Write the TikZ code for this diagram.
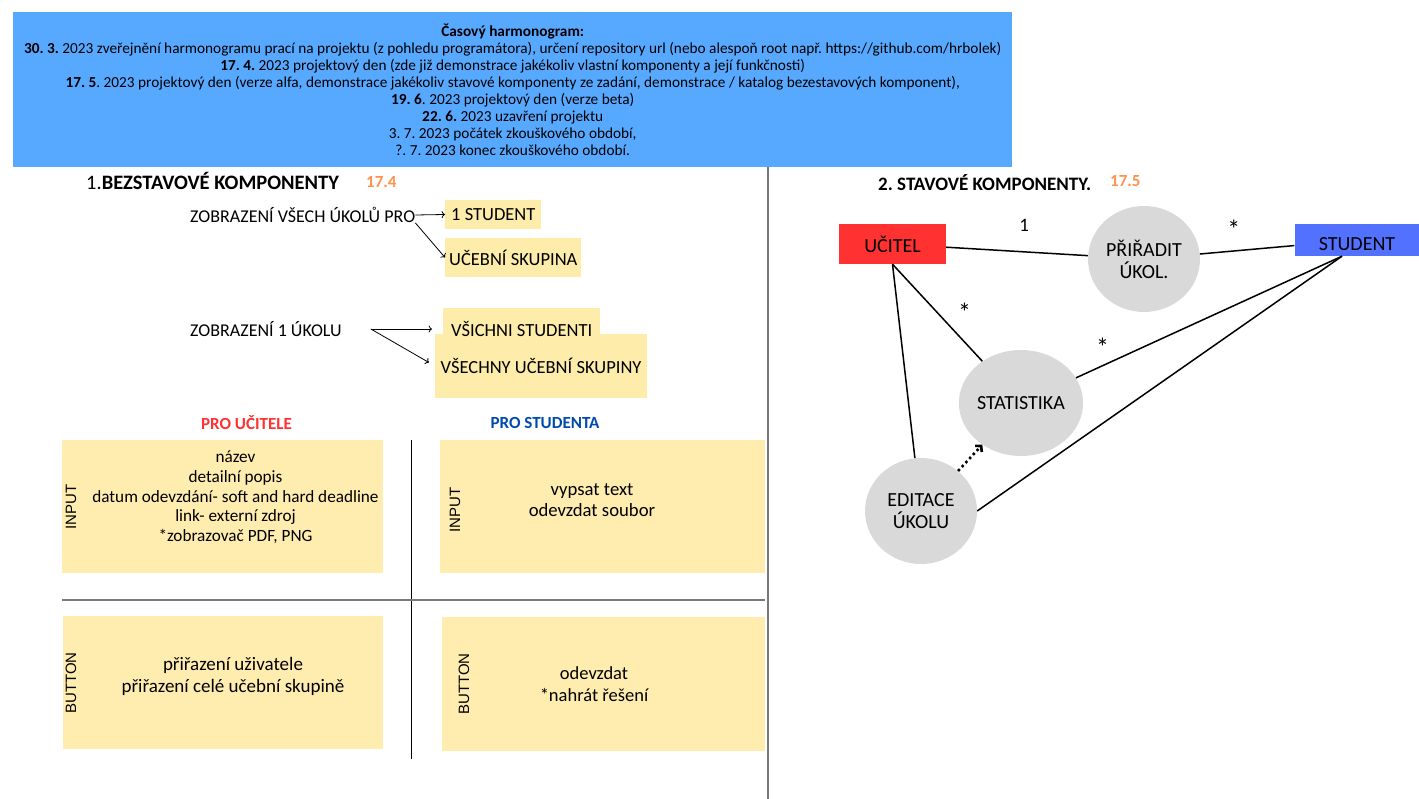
\documentclass[tikz,border=0pt]{standalone}
\usepackage{fontspec}
\setmainfont{Carlito}
\newfontfamily\capsfont{Liberation Sans}
\usetikzlibrary{arrows.meta, shapes.geometric, positioning}

\definecolor{bannerblue}{RGB}{87,168,255}
\definecolor{note}{RGB}{255,237,175}
\definecolor{marker}{RGB}{253,236,170}
\definecolor{teacherred}{RGB}{255,49,49}
\definecolor{studentblue}{RGB}{82,113,255}
\definecolor{darkblue}{RGB}{0,74,173}
\definecolor{dateorange}{RGB}{255,145,77}
\definecolor{bubblegray}{RGB}{217,217,217}
\definecolor{rulegray}{RGB}{120,120,120}
\newcommand{\fs}[2]{\fontsize{#1}{#2}\selectfont}
\frenchspacing

\begin{document}
\begin{tikzpicture}[x=1pt, y=-1pt,
  txt/.style={inner sep=0pt, font=\fs{18}{21}},
  hl/.style={fill=marker, anchor=west, inner ysep=0pt, font=\fs{18.5}{22}},
  card/.style={fill=note, anchor=north west, inner sep=0pt, minimum width=321pt, minimum height=133pt},
  cardtext/.style={align=center, inner sep=0pt},
  side/.style={rotate=90, inner sep=0pt, font=\capsfont\fs{15}{18}},
  bubble/.style={ellipse, fill=bubblegray, minimum width=112pt, minimum height=106pt, inner sep=0pt, align=center, font=\fs{20}{22}},
  link/.style={line width=1.5pt},
  mult/.style={inner sep=0pt, font=\fs{19}{20}},
  star/.style={inner sep=0pt, font=\fs{26}{26}},
  pointer/.style={->, line width=0.8pt}]
\useasboundingbox (0,0) rectangle (1419,799);

% harmonogram
\node[fill=bannerblue, anchor=north west, minimum width=999pt, minimum height=155pt,
      inner sep=0pt, align=center, font=\fs{15.3}{17}] (banner) at (13,12) {%
  \textbf{Časový harmonogram:}\\
  \textbf{30. 3.} 2023 zveřejnění harmonogramu prací na projektu (z pohledu programátora), určení repository url (nebo alespoň root např. https://github.com/hrbolek)\\
  \textbf{17. 4.} 2023 projektový den (zde již demonstrace jakékoliv vlastní komponenty a její funkčnosti)\\
  \textbf{17. 5}. 2023 projektový den (verze alfa, demonstrace jakékoliv stavové komponenty ze zadání, demonstrace / katalog bezestavových komponent),\\
  \textbf{19. 6}. 2023 projektový den (verze beta)\\
  \textbf{22. 6.} 2023 uzavření projektu\\
  3. 7. 2023 počátek zkouškového období,\\
  ?. 7. 2023 konec zkouškového období.};

\draw[rulegray, line width=1.5pt] (768,167) -- (768,799);

% 1. bezstavove komponenty
\node[txt, anchor=west, font=\fs{20.5}{22}] (head1) at (86,181) {1.\textbf{BEZSTAVOVÉ KOMPONENTY}};
\node[txt, anchor=west, text=dateorange, font=\bfseries\fs{17}{18}] (date1) at (366,182) {17.4};

\node[txt, anchor=west] (allTasks) at (190,215) {ZOBRAZENÍ VŠECH ÚKOLŮ PRO};
\node[hl, inner xsep=6pt, minimum height=29pt] (oneStudent) at (445,214.5) {1 STUDENT};
\node[hl, inner xsep=4pt, minimum height=39pt] (group) at (445,257.5) {UČEBNÍ SKUPINA};
\draw[pointer] (allTasks.east) -- (oneStudent.west);
\draw[pointer] (allTasks.south east) -- (group.west);

\node[txt, anchor=west] (oneTask) at (190,329) {ZOBRAZENÍ 1 ÚKOLU};
\coordinate[right=29pt of oneTask.east] (fork);
\node[hl, inner xsep=5.5pt, minimum height=64pt] (allGroups) at (435,366) {VŠECHNY UČEBNÍ SKUPINY};
\node[hl, inner xsep=8pt, minimum height=42pt] (allStudents) at (443,329) {VŠICHNI STUDENTI};
\draw[pointer, shorten >=11pt] (fork) -- (allStudents.west);
\draw[pointer, shorten >=7pt] (fork) -- (allGroups.west);

\node[txt, text=teacherred, font=\bfseries\fs{17}{19}] (forTeacher) at (246.5,423) {PRO UČITELE};
\node[txt, text=darkblue, font=\bfseries\fs{17}{19}] (forStudent) at (545,423) {PRO STUDENTA};

\node[card] (inTeacher) at (62,440) {};
\node[card, minimum width=325pt] (inStudent) at (440,440) {};
\node[card, minimum width=320pt] (btnTeacher) at (63,616) {};
\node[card, minimum width=323pt, minimum height=134pt] (btnStudent) at (442,617) {};
\draw[line width=1pt] (411,440) -- (411,759);
\draw[rulegray, line width=1.5pt] (62,600) -- (765,600);

\node[side] (inTeacherTag) at (71,507) {INPUT};
\node[side] (inStudentTag) at (455,510) {INPUT};
\node[side] (btnTeacherTag) at (71,683) {BUTTON};
\node[side] (btnStudentTag) at (464,684) {BUTTON};

\node[cardtext, font=\fs{17.2}{19.7}] (inTeacherText) at (235.5,497.5) {název\\detailní popis\\datum odevzdání- soft and hard deadline\\link- externí zdroj\\*zobrazovač PDF, PNG};
\node[cardtext, font=\fs{18.7}{21}] (inStudentText) at (592,500.5) {vypsat text\\odevzdat soubor};
\node[cardtext, font=\fs{19}{21.5}] (btnTeacherText) at (233,676.5) {přiřazení uživatele\\přiřazení celé učební skupině};
\node[cardtext, font=\fs{18.5}{22}] (btnStudentText) at (594,684) {odevzdat\\*nahrát řešení};

% 2. stavove komponenty
\node[txt, anchor=west, font=\bfseries\fs{19}{20}] (head2) at (878,183) {2. STAVOVÉ KOMPONENTY.};
\node[txt, anchor=west, text=dateorange, font=\bfseries\fs{17}{18}] (date2) at (1110,181) {17.5};

\node[fill=teacherred, minimum width=107pt, minimum height=40pt, font=\fs{20}{22}] (teacher) at (892.5,244) {UČITEL};
\node[fill=studentblue, minimum width=125pt, minimum height=32pt, text height=22pt, text depth=0pt, font=\fs{20}{22}] (student) at (1357,240) {STUDENT};
\node[bubble] (assign) at (1144,259) {PŘIŘADIT\\ÚKOL.};
\node[bubble] (stats) at (1021,403) {STATISTIKA};
\node[bubble] (edit) at (921,511) {EDITACE\\ÚKOLU};
\coordinate[left=15pt of student.south] (studentFoot);

\draw[link] (teacher) -- node[mult, pos=0.55, above=20pt] {1} (assign);
\draw[link] (assign) -- node[star, pos=0.36, above=12pt] {*} (student);
\draw[link] (teacher.south) -- node[star, pos=0.5, right=20pt] {*} (stats);
\draw[link] (teacher.south) -- (edit);
\draw[link] (studentFoot) -- node[star, pos=0.9, above=8pt] {*} (stats);
\draw[link] (studentFoot) -- (edit.east);
\draw[line width=2.6pt, dash pattern=on 2.5pt off 3pt, -{Straight Barb[length=4pt, width=9pt]}] (edit) -- (stats);
\end{tikzpicture}
\end{document}
